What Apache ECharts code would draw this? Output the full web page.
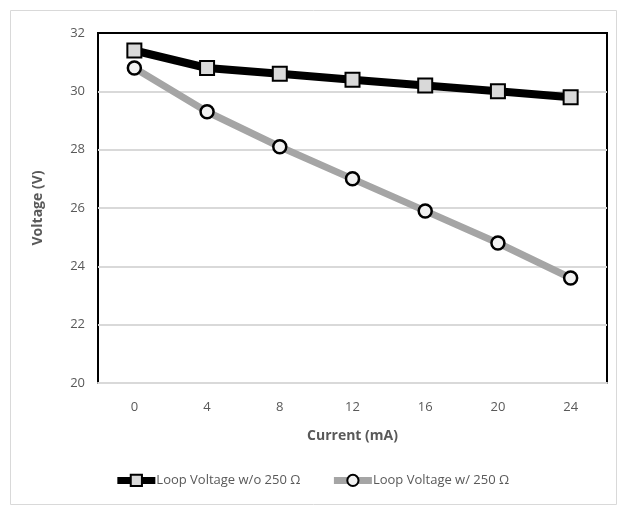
<!DOCTYPE html>
<html>
<head>
<meta charset="utf-8">
<script src="https://cdn.jsdelivr.net/npm/echarts@6/dist/echarts.min.js"></script>
<style>
  html, body { margin: 0; padding: 0; background: #fff; }
  #main { width: 623px; height: 510px; }
</style>
</head>
<body>
<div id="main"></div>
<script>
// current (mA) on x, loop voltage (V) on y
var currents = ['0', '4', '8', '12', '16', '20', '24'];
var voltNo250 = [31.4, 30.8, 30.6, 30.4, 30.2, 30.0, 29.8];
var voltWith250 = [30.8, 29.3, 28.1, 27.0, 25.9, 24.8, 23.6];
var seriesNames = ['Loop Voltage w/o 250 Ω', 'Loop Voltage w/ 250 Ω'];

var txt = '#595959';
var font = 'Open Sans';

var chart = echarts.init(document.getElementById('main'));

chart.setOption({
  animation: false,
  textStyle: { fontFamily: font },
  graphic: [{
    type: 'rect',
    shape: { x: 10.5, y: 10.5, width: 606, height: 494 },
    style: { fill: 'none', stroke: '#d9d9d9', lineWidth: 1 },
    silent: true
  }],
  grid: {
    left: 98, right: 16, top: 33, bottom: 127,
    show: true,
    borderColor: '#000',
    borderWidth: 2
  },
  legend: {
    bottom: 18,
    left: 'center',
    itemWidth: 38,
    itemHeight: 14,
    itemGap: 30,
    lineStyle: { width: 7 },
    textStyle: { color: txt, fontSize: 13, fontFamily: font, padding: [0, 0, 0, -4] },
    data: seriesNames
  },
  xAxis: {
    type: 'category',
    data: currents,
    boundaryGap: true,
    name: 'Current (mA)',
    nameLocation: 'middle',
    nameGap: 46,
    nameTextStyle: { color: txt, fontSize: 14, fontWeight: 'bold', fontFamily: font },
    axisLine: { lineStyle: { color: '#d9d9d9', width: 2 } },
    axisTick: { show: false },
    axisLabel: { color: txt, fontSize: 13, margin: 18 }
  },
  yAxis: {
    type: 'value',
    min: 20,
    max: 32,
    interval: 2,
    name: 'Voltage (V)',
    nameLocation: 'middle',
    nameGap: 53,
    nameTextStyle: { color: txt, fontSize: 14, fontWeight: 'bold', fontFamily: font },
    axisLine: { show: false },
    axisTick: { show: false },
    axisLabel: { color: txt, fontSize: 13, margin: 13 },
    splitLine: { showMaxLine: false, showMinLine: false, lineStyle: { color: '#d9d9d9', width: 2 } }
  },
  series: [
    {
      name: seriesNames[0],
      type: 'line',
      data: voltNo250,
      z: 3,
      lineStyle: { color: '#000', width: 8 },
      symbol: 'rect',
      symbolSize: 14,
      itemStyle: { color: '#d9d9d9', borderColor: '#000', borderWidth: 2 }
    },
    {
      name: seriesNames[1],
      type: 'line',
      data: voltWith250,
      z: 2,
      lineStyle: { color: '#a5a5a5', width: 7 },
      symbol: 'circle',
      symbolSize: 13,
      itemStyle: { color: '#f2f2f2', borderColor: '#000', borderWidth: 2.5 }
    }
  ]
});
</script>
</body>
</html>
